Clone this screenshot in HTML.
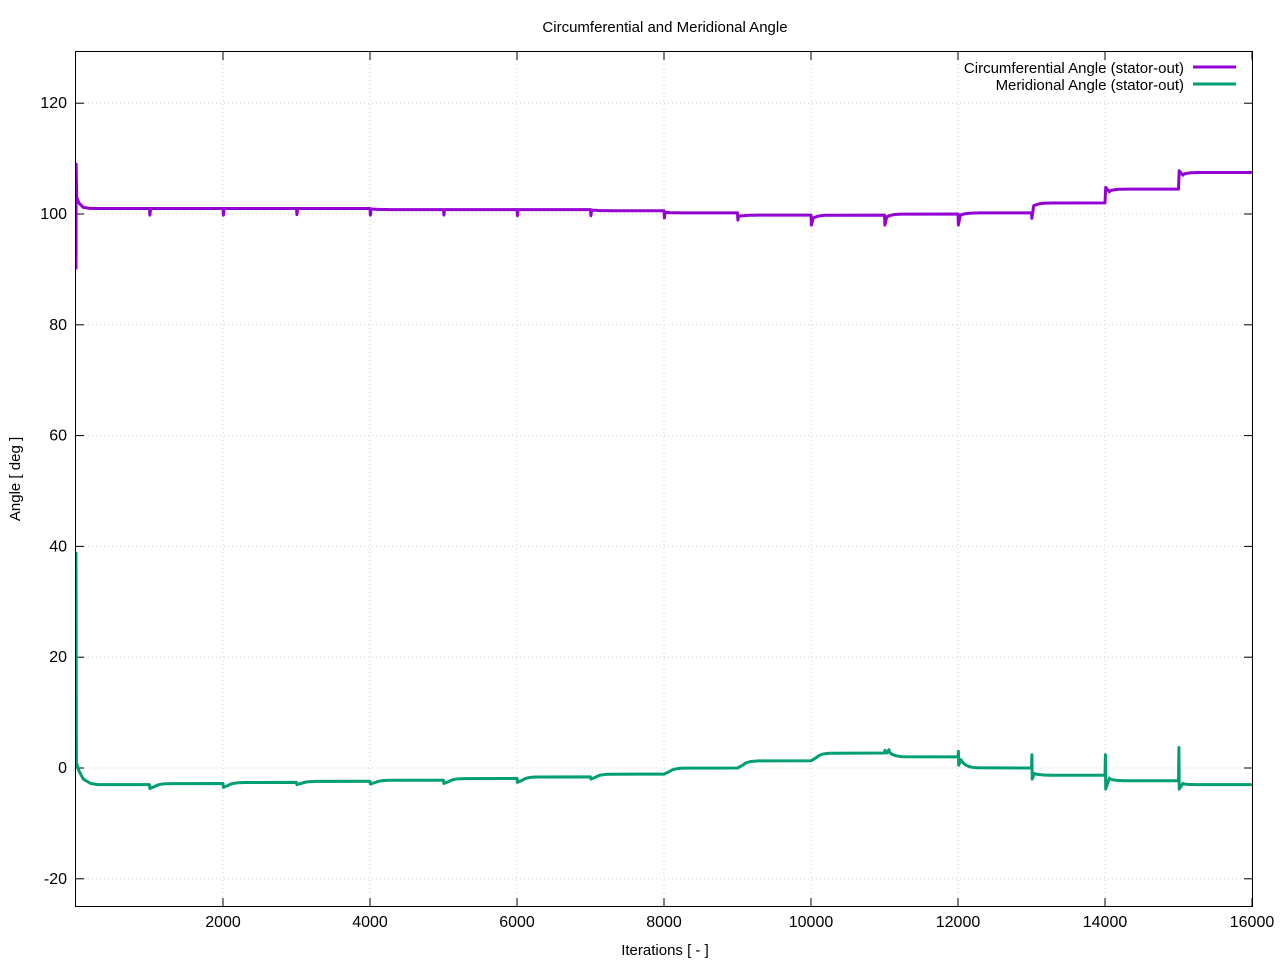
<!DOCTYPE html>
<html><head><meta charset="utf-8"><style>
body{margin:0;background:#fff}
svg{display:block;font-family:"Liberation Sans",sans-serif}
</style></head><body>
<svg id="s" width="1280" height="960" xmlns="http://www.w3.org/2000/svg">
<rect width="1280" height="960" fill="#fff"/>
<g id="grid" stroke="#d0d0d0" stroke-dasharray="1,3" stroke-width="1"></g>
<g id="ticks" stroke="#000" stroke-width="1"></g>
<g id="lbl" font-size="16" fill="#000"></g>
<rect x="75.5" y="51.5" width="1177" height="855" fill="none" stroke="#000"/>
<text x="665" y="32" font-size="15" text-anchor="middle">Circumferential and Meridional Angle</text>
<text x="665" y="955" font-size="15" text-anchor="middle">Iterations [ - ]</text>
<text transform="translate(20,479) rotate(-90)" font-size="15" text-anchor="middle">Angle [ deg ]</text>
<text x="1184" y="73" font-size="15" text-anchor="end">Circumferential Angle (stator-out)</text>
<text x="1184" y="90" font-size="15" text-anchor="end">Meridional Angle (stator-out)</text>
<line x1="1193" y1="67" x2="1236" y2="67" stroke="#9400d3" stroke-width="3"/>
<line x1="1193" y1="84" x2="1236" y2="84" stroke="#009e73" stroke-width="3"/>
<clipPath id="cp"><rect x="76" y="52" width="1176" height="854"/></clipPath>
<g clip-path="url(#cp)">
<path id="p1" fill="none" stroke="#9400d3" stroke-width="3" stroke-linejoin="round"/>
<path id="p2" fill="none" stroke="#009e73" stroke-width="3" stroke-linejoin="round"/>
</g>
</svg>
<script>
const X=v=>76+v*0.0735, Y=v=>768-v*5.54;
const ns="http://www.w3.org/2000/svg";
function el(p,t,a,txt){const e=document.createElementNS(ns,t);for(const k in a)e.setAttribute(k,a[k]);if(txt!=null)e.textContent=txt;document.getElementById(p).appendChild(e);}
for(let v=-20;v<=120;v+=20){const y=Y(v);el("grid","line",{x1:76,x2:1252,y1:y,y2:y});
el("ticks","line",{x1:76,x2:84,y1:y,y2:y});el("ticks","line",{x1:1244,x2:1252,y1:y,y2:y});
el("lbl","text",{x:67,y:y+5,"text-anchor":"end"},v);}
for(let v=2000;v<=16000;v+=2000){const x=X(v);el("grid","line",{x1:x,x2:x,y1:52,y2:906});
el("ticks","line",{x1:x,x2:x,y1:906,y2:898});el("ticks","line",{x1:x,x2:x,y1:52,y2:60});
el("lbl","text",{x:x,y:927,"text-anchor":"middle"},v);}
function build(levels,start,dips){let pts=[];
pts=pts.concat(start);
for(let i=0;i<levels.length;i++){const s=i*1000,L=levels[i],prev=i?levels[i-1]:L;
 if(i>0){const d=dips[i]||[];pts.push([s,prev]);for(const q of d)pts.push(q);
  const last=d.length?d[d.length-1][1]:prev;
  for(let k=1;k<=8;k++){const t=k/8;pts.push([s+40+t*250,L+(last-L)*Math.exp(-4*t)]);}}
 pts.push([s+999,L]);}
return pts.map((p,i)=>(i?"L":"M")+X(p[0]).toFixed(1)+" "+Y(p[1]).toFixed(1)).join("");}
const c=[101,101,101,101,100.8,100.8,100.8,100.6,100.2,99.8,99.8,100,100.2,102,104.5,107.5];
const cstart=[[0,90],[2,109],[10,103],[40,102],[100,101.2],[200,101]];
const cd={1:[[1005,99.8],[1015,101]],2:[[2005,99.8],[2015,101]],3:[[3005,99.9],[3015,101]],4:[[4005,99.8],[4015,100.9]],5:[[5005,99.8],[5015,100.8]],6:[[6005,99.7],[6015,100.8]],7:[[7005,99.7],[7015,100.7]],8:[[8005,99.3],[8015,100.3]],9:[[9005,98.9],[9015,99.6]],10:[[10005,98],[10030,99.3]],11:[[11005,98],[11030,99.5]],12:[[12005,98],[12030,99.8]],13:[[13005,99.2],[13030,101.5]],14:[[14010,104.8],[14060,104]],15:[[15010,107.8],[15060,107]]};
document.getElementById("p1").setAttribute("d",build(c,cstart,cd));
const m=[-3,-2.8,-2.6,-2.4,-2.2,-1.9,-1.6,-1.1,0,1.3,2.7,2,0,-1.3,-2.3,-3];
const mstart=[[0,39],[5,1],[40,-0.5],[100,-2],[200,-2.8],[300,-3]];
const md={1:[[1005,-3.7]],2:[[2005,-3.5]],3:[[3005,-3]],4:[[4005,-2.9]],5:[[5005,-2.8]],6:[[6005,-2.6]],7:[[7005,-2]],11:[[11005,3.2],[11030,2.7],[11060,3.3]],12:[[12005,3],[12010,0.5],[12040,1.5]],13:[[13005,2.4],[13010,-2],[13040,-1]],14:[[14005,2.4],[14010,-3.8],[14060,-1.8]],15:[[15005,3.7],[15010,-3.8],[15060,-2.8]]};
document.getElementById("p2").setAttribute("d",build(m,mstart,md));
</script>
</body></html>
